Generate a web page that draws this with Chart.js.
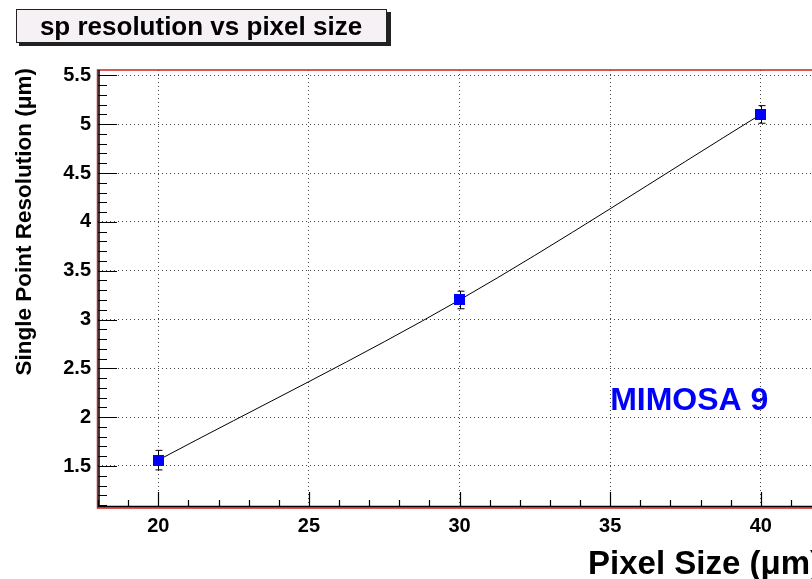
<!DOCTYPE html>
<html>
<head>
<meta charset="utf-8">
<script src="https://cdn.jsdelivr.net/npm/chart.js@4"></script>
<style>
  html, body { margin: 0; padding: 0; background: #fff; overflow: hidden; }
  #wrap { position: relative; width: 840px; height: 579px; }
</style>
</head>
<body>
<div id="wrap"><canvas id="resChart" width="840" height="579"></canvas></div>
<script>
// data
const pixelSizes = [20, 30, 40];
const resolution = [1.56, 3.2, 5.1];
const resErrors = [0.1, 0.09, 0.09];
const xTicks = [20, 25, 30, 35, 40];
const yTicks = [1.5, 2, 2.5, 3, 3.5, 4, 4.5, 5, 5.5];

const FONT = '"Liberation Sans", Arial, Helvetica, sans-serif';

// ROOT style frame, inner ticks, error bars and texts
const rootStyle = {
    id: 'rootStyle',
    beforeDraw(chart) {
        const c = chart.ctx;
        c.save();
        c.fillStyle = '#fff';
        c.fillRect(0, 0, chart.width, chart.height);
        c.restore();
    },
    afterDatasetsDraw(chart) {
        const c = chart.ctx;
        const x = chart.scales.x, y = chart.scales.y;
        const a = chart.chartArea;
        c.save();

        // error bars
        c.strokeStyle = '#000';
        c.lineWidth = 1;
        pixelSizes.forEach((p, i) => {
            const px = Math.round(x.getPixelForValue(p)) + 0.5;
            const top = y.getPixelForValue(resolution[i] + resErrors[i]);
            const bot = y.getPixelForValue(resolution[i] - resErrors[i]);
            c.beginPath();
            c.moveTo(px, top); c.lineTo(px, bot);
            c.moveTo(px - 3, top); c.lineTo(px + 4, top);
            c.moveTo(px - 3, bot); c.lineTo(px + 4, bot);
            c.stroke();
        });
        // redraw markers over bars
        c.fillStyle = '#0000ff';
        pixelSizes.forEach((p, i) => {
            const px = x.getPixelForValue(p), py = y.getPixelForValue(resolution[i]);
            c.fillRect(Math.round(px - 5.5), Math.round(py - 5.5), 11, 11);
        });

        // red frame
        c.strokeStyle = '#d02020';
        c.lineWidth = 1.5;
        c.strokeRect(a.left - 0.5, a.top, a.right - a.left + 1, a.bottom - a.top + 1);

        // black axes
        c.strokeStyle = '#000';
        c.lineWidth = 1.5;
        c.beginPath();
        c.moveTo(a.left + 1, a.top); c.lineTo(a.left + 1, a.bottom - 0.5);
        c.lineTo(a.right, a.bottom - 0.5);
        c.stroke();

        // inner ticks
        c.lineWidth = 1.2;
        c.beginPath();
        for (let v = 11; v <= 55; v++) {
            const val = v / 10;
            const py = Math.round(y.getPixelForValue(val)) + 0.5;
            if (py < a.top || py > a.bottom) continue;
            const len = (v % 5 === 0) ? 19 : 9;
            c.moveTo(a.left, py); c.lineTo(a.left + len, py);
        }
        for (let v = 18; v <= 42; v++) {
            const px = Math.round(x.getPixelForValue(v)) + 0.5;
            const len = (v % 5 === 0) ? 15 : 7;
            c.moveTo(px, a.bottom); c.lineTo(px, a.bottom - len);
        }
        c.stroke();

        // title box
        c.fillStyle = '#222';
        c.fillRect(19, 12, 372, 34);
        c.fillStyle = '#f5f1f5';
        c.strokeStyle = '#222';
        c.lineWidth = 1;
        c.fillRect(16, 9.5, 371, 33);
        c.strokeRect(16.5, 9.5, 370, 33);
        c.fillStyle = '#000';
        c.font = 'bold 26px ' + FONT;
        c.textAlign = 'center';
        c.textBaseline = 'alphabetic';
        c.fillText('sp resolution vs pixel size', 201, 35);

        // axis titles
        c.font = 'bold 33px ' + FONT;
        c.textAlign = 'right';
        c.fillText('Pixel Size (\u03bcm)', a.right, 574);

        c.save();
        c.translate(31, a.top - 2);
        c.rotate(-Math.PI / 2);
        c.font = 'bold 22.5px ' + FONT;
        c.textAlign = 'right';
        c.fillText('Single Point Resolution (\u03bcm)', 0, 0);
        c.restore();

        // detector label
        c.fillStyle = '#0000ff';
        c.font = 'bold 32px ' + FONT;
        c.textAlign = 'left';
        c.fillText('MIMOSA 9', x.getPixelForValue(35), 410);

        c.restore();
    }
};

const ctx = document.getElementById('resChart').getContext('2d');
const resChart = new Chart(ctx, {
    type: 'scatter',
    data: {
        datasets: [{
            label: 'sp resolution',
            data: pixelSizes.map((p, i) => ({ x: p, y: resolution[i] })),
            showLine: true,
            borderColor: '#000',
            borderWidth: 1,
            cubicInterpolationMode: 'monotone',
            pointStyle: 'rect',
            pointRadius: 5.5,
            pointBackgroundColor: '#0000ff',
            pointBorderColor: '#0000ff',
            pointBorderWidth: 0
        }]
    },
    options: {
        responsive: false,
        animation: false,
        devicePixelRatio: 1,
        layout: { padding: { left: 0, top: 70, right: 19, bottom: 0 } },
        plugins: {
            legend: { display: false },
            tooltip: { enabled: false }
        },
        scales: {
            x: {
                type: 'linear',
                min: 18,
                max: 42,
                afterBuildTicks: s => { s.ticks = xTicks.map(v => ({ value: v })); },
                afterFit: s => { s.height = 72; },
                grid: { color: '#444', lineWidth: 1, drawTicks: false },
                border: { display: false, dash: [1, 3] },
                ticks: {
                    color: '#000',
                    padding: 7,
                    maxRotation: 0,
                    font: { family: FONT, size: 20, weight: 'bold' },
                    callback: v => String(v)
                }
            },
            y: {
                type: 'linear',
                min: 1.08,
                max: 5.555,
                afterBuildTicks: s => { s.ticks = yTicks.map(v => ({ value: v })); },
                afterFit: s => { s.width = 98; },
                grid: { color: '#444', lineWidth: 1, drawTicks: false },
                border: { display: false, dash: [1, 3] },
                ticks: {
                    color: '#000',
                    padding: 7,
                    font: { family: FONT, size: 20, weight: 'bold' },
                    callback: v => String(v)
                }
            }
        }
    },
    plugins: [rootStyle]
});
</script>
</body>
</html>
